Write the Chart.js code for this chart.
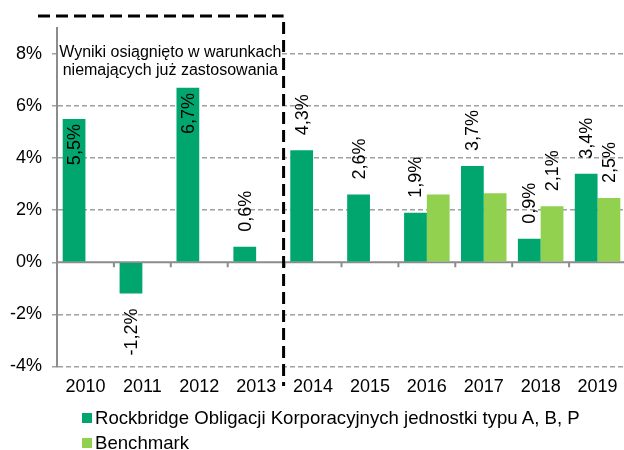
<!DOCTYPE html>
<html>
<head>
<meta charset="utf-8">
<script src="https://cdn.jsdelivr.net/npm/chart.js@4/dist/chart.umd.min.js"></script>
<style>
  html, body { margin: 0; padding: 0; background: #fff; overflow: hidden; }
  #wrap { position: relative; width: 628px; height: 450px; }
  #legend { position: absolute; left: 82px; top: 405px; font: 18.6px "Liberation Sans", Arial, sans-serif; color: #000; }
  .row { display: flex; align-items: center; height: 25px; }
  .sw { width: 10px; height: 10px; margin-right: 3px; flex-shrink: 0; }
</style>
</head>
<body>
<div id="wrap">
  <canvas id="chart" width="628" height="450"></canvas>
  <div id="legend"></div>
</div>
<script>
const years = ["2010", "2011", "2012", "2013", "2014", "2015", "2016", "2017", "2018", "2019"];
const fundValues = [5.5, -1.2, 6.7, 0.6, 4.3, 2.6, 1.9, 3.7, 0.9, 3.4];
const benchValues = [null, null, null, null, null, null, 2.6, 2.65, 2.15, 2.47];
// benchmark labels shown only where the original prints them
const benchLabels = [null, null, null, null, null, null, null, null, 2.1, 2.5];
const yTicks = [-4, -2, 0, 2, 4, 6, 8];
const seriesNames = ["Rockbridge Obligacji Korporacyjnych jednostki typu A, B, P", "Benchmark"];
const noteLines = ["Wyniki osiągnięto w warunkach", "niemających już zastosowania"];

const FONT = '"Liberation Sans", Arial, sans-serif';
const DARK = "#00a66e";
const LIGHT = "#92d050";
const GRID = "#a0a0a0";

const fmt = (v) => v.toFixed(1).replace(".", ",") + "%";

/* ── data labels, rotated ── */
const barLabels = {
  id: "barLabels",
  afterDatasetsDraw(chart) {
    const ctx = chart.ctx;
    ctx.save();
    ctx.font = "18px " + FONT;
    ctx.fillStyle = "#000";
    ctx.textBaseline = "middle";
    chart.data.datasets.forEach((ds, di) => {
      const meta = chart.getDatasetMeta(di);
      const texts = di === 0 ? fundValues : benchLabels;
      meta.data.forEach((bar, i) => {
        const v = texts[i];
        if (v === null || v === undefined) return;
        const p = bar.getProps(["x", "y", "base"], true);
        let y, align;
        if (v < 0) {
          y = p.y + 15;
          align = "right";
        } else if (v > 5) {
          y = p.y + 5;
          align = "right";
        } else {
          y = p.y - 15;
          align = "left";
        }
        ctx.save();
        ctx.translate(p.x + 1, y);
        ctx.rotate(-Math.PI / 2);
        ctx.textAlign = align;
        ctx.fillText(fmt(v), 0, 0);
        ctx.restore();
      });
    });
    ctx.restore();
  },
};

/* ── zero axis, category ticks, dashed box and note ── */
const decorations = {
  id: "decorations",
  beforeDatasetsDraw(chart) {
    const { ctx, chartArea, scales } = chart;
    const x = scales.x;
    const y0 = scales.y.getPixelForValue(0);
    ctx.save();
    ctx.strokeStyle = "#8c8c8c";
    ctx.lineWidth = 2;
    ctx.beginPath();
    ctx.moveTo(chartArea.left, y0);
    ctx.lineTo(chartArea.right, y0);
    for (let i = 1; i < years.length; i++) {
      const bx = (x.getPixelForValue(i - 1) + x.getPixelForValue(i)) / 2;
      ctx.moveTo(bx, y0);
      ctx.lineTo(bx, y0 + 5);
    }
    ctx.stroke();
    ctx.restore();
  },
  afterDraw(chart) {
    const { ctx, chartArea, scales } = chart;
    const x = scales.x;
    const divX = (x.getPixelForValue(3) + x.getPixelForValue(4)) / 2 - 1;
    ctx.save();
    // note box
    const cx = (chartArea.left + divX) / 2;
    ctx.fillStyle = "#fff";
    ctx.fillRect(chartArea.left + 1, 43, divX - chartArea.left - 4, 38);
    ctx.fillStyle = "#000";
    ctx.font = "16px " + FONT;
    ctx.textAlign = "center";
    ctx.textBaseline = "middle";
    ctx.fillText(noteLines[0], cx, 53);
    ctx.fillText(noteLines[1], cx, 71);
    // dashed frame
    ctx.strokeStyle = "#000";
    ctx.lineWidth = 3;
    ctx.setLineDash([12, 6]);
    ctx.beginPath();
    ctx.moveTo(38, 16);
    ctx.lineTo(divX, 16);
    ctx.stroke();
    ctx.beginPath();
    ctx.moveTo(divX, 22);
    ctx.lineTo(divX, 386);
    ctx.stroke();
    ctx.restore();
  },
};

new Chart(document.getElementById("chart"), {
  type: "bar",
  data: {
    labels: years,
    datasets: [
      { label: seriesNames[0], data: fundValues, backgroundColor: DARK },
      { label: seriesNames[1], data: benchValues, backgroundColor: LIGHT },
    ],
  },
  options: {
    responsive: false,
    animation: false,
    categoryPercentage: 0.8,
    barPercentage: 1.0,
    layout: { padding: { top: 28, right: 2, bottom: 50, left: 0 } },
    plugins: {
      legend: { display: false },
      tooltip: { enabled: false },
    },
    scales: {
      x: {
        grid: { display: false },
        border: { display: false },
        ticks: { color: "#000", font: { family: FONT, size: 18 }, padding: 2, maxRotation: 0 },
      },
      y: {
        min: -4,
        max: 9,
        afterBuildTicks(axis) {
          axis.ticks = yTicks.map((v) => ({ value: v }));
        },
        afterFit(axis) {
          axis.width = 57;
        },
        grid: {
          color: (c) => (c.tick && c.tick.value === 0 ? "rgba(0,0,0,0)" : GRID),
          lineWidth: 1.5,
          tickLength: 5,
          tickColor: GRID,
        },
        border: {
          display: true,
          color: "#8c8c8c",
          width: 2,
          dash: (c) => (c.tick && c.tick.value === 0 ? [] : [5, 3]),
        },
        ticks: {
          color: "#000",
          font: { family: FONT, size: 18 },
          padding: 10,
          callback: (v) => v + "%",
        },
      },
    },
  },
  plugins: [decorations, barLabels],
});

// legend
const legendEl = document.getElementById("legend");
legendEl.innerHTML = seriesNames
  .map(
    (name, i) =>
      `<div class="row"><span class="sw" style="background:${i === 0 ? DARK : LIGHT}"></span>${name}</div>`
  )
  .join("");
</script>
</body>
</html>
